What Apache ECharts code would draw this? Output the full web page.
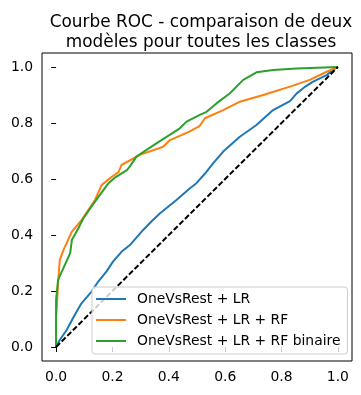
<!DOCTYPE html>
<html>
<head>
<meta charset="utf-8">
<script src="https://cdn.jsdelivr.net/npm/echarts@6/dist/echarts.min.js"></script>
<style>
html,body{margin:0;padding:0;background:#fff;}
#chart{width:361px;height:395px;}
</style>
</head>
<body>
<div id="chart"></div>
<script>
var titleText = "Courbe ROC - comparaison de deux\nmodèles pour toutes les classes";
var seriesNames = ["OneVsRest + LR", "OneVsRest + LR + RF", "OneVsRest + LR + RF binaire"];
var tickValues = [0, 0.2, 0.4, 0.6, 0.8, 1.0];

var lrFpr = [0, 0.013, 0.037, 0.066, 0.09, 0.126, 0.149, 0.179, 0.202, 0.232, 0.262, 0.309, 0.34, 0.368, 0.427, 0.475, 0.498, 0.534, 0.557, 0.593, 0.652, 0.711, 0.77, 0.83, 0.853, 0.88, 0.912, 0.96, 0.99, 1];
var lrTpr = [0, 0.025, 0.06, 0.114, 0.156, 0.198, 0.233, 0.27, 0.305, 0.34, 0.364, 0.418, 0.45, 0.477, 0.525, 0.567, 0.585, 0.626, 0.656, 0.698, 0.751, 0.793, 0.846, 0.878, 0.905, 0.927, 0.948, 0.971, 0.995, 1];

var rfFpr = [0, 0, 0.003, 0.007, 0.013, 0.026, 0.056, 0.091, 0.138, 0.162, 0.198, 0.222, 0.232, 0.297, 0.38, 0.404, 0.475, 0.51, 0.528, 0.593, 0.652, 0.735, 0.83, 0.9, 0.96, 1];
var rfTpr = [0, 0.108, 0.15, 0.229, 0.31, 0.346, 0.412, 0.454, 0.525, 0.579, 0.608, 0.625, 0.65, 0.686, 0.715, 0.739, 0.77, 0.79, 0.817, 0.846, 0.876, 0.9, 0.93, 0.954, 0.983, 1];

var binFpr = [0, 0, 0, 0.007, 0.025, 0.05, 0.056, 0.079, 0.097, 0.138, 0.186, 0.21, 0.251, 0.262, 0.285, 0.356, 0.439, 0.463, 0.51, 0.534, 0.569, 0.617, 0.664, 0.711, 0.77, 0.853, 1];
var binTpr = [0, 0.085, 0.168, 0.24, 0.28, 0.335, 0.382, 0.424, 0.46, 0.519, 0.585, 0.606, 0.632, 0.645, 0.68, 0.727, 0.781, 0.805, 0.829, 0.84, 0.87, 0.906, 0.954, 0.981, 0.989, 0.995, 1];

var diagX = [0, 1];
var diagY = [0, 1];

function zip(a, b) { return a.map(function (v, i) { return [v, b[i]]; }); }

var font = "DejaVu Sans";
var chart = echarts.init(document.getElementById('chart'), null, {renderer: 'canvas'});

function axisCommon() {
  return {
    type: 'value', min: -0.05, max: 1.05,
    axisLine: {show: false},
    axisTick: {show: true, length: 5, inside: false, customValues: tickValues, lineStyle: {color: '#000', width: 1}},
    axisLabel: {show: true, margin: 9, customValues: tickValues, color: '#000', fontFamily: font, fontSize: 13.9,
      formatter: function (v) { return v.toFixed(1); }},
    splitLine: {show: false}
  };
}

var option = {
  animation: false,
  backgroundColor: '#fff',
  title: {
    text: titleText, left: 196, top: 8, textAlign: 'center',
    textStyle: {fontFamily: font, fontSize: 16.9, fontWeight: 'normal', color: '#000', lineHeight: 19.5}
  },
  grid: {left: 42, right: 9, top: 53, bottom: 34, show: true, borderColor: '#000', borderWidth: 1, backgroundColor: 'transparent'},
  xAxis: axisCommon(),
  yAxis: axisCommon(),
  legend: {
    data: seriesNames, orient: 'vertical', left: 92, top: 287, z: 20,
    icon: 'rect', itemWidth: 30, itemHeight: 2, itemGap: 7,
    padding: [5, 7, 6, 4],
    backgroundColor: 'rgba(255,255,255,0.8)', borderColor: '#cccccc', borderWidth: 1, borderRadius: 3,
    textStyle: {fontFamily: font, fontSize: 13.9, color: '#000', lineHeight: 14, padding: [0, 0, 0, 6]}
  },
  series: [
    {name: seriesNames[0], type: 'line', data: zip(lrFpr, lrTpr), symbol: 'none', showSymbol: false, color: '#1f77b4', lineStyle: {width: 2, color: '#1f77b4'}, z: 2},
    {name: seriesNames[1], type: 'line', data: zip(rfFpr, rfTpr), symbol: 'none', showSymbol: false, color: '#ff7f0e', lineStyle: {width: 2, color: '#ff7f0e'}, z: 3},
    {name: seriesNames[2], type: 'line', data: zip(binFpr, binTpr), symbol: 'none', showSymbol: false, color: '#2ca02c', lineStyle: {width: 2, color: '#2ca02c'}, z: 4},
    {name: 'diag', type: 'line', data: zip(diagX, diagY), symbol: 'none', showSymbol: false, color: '#000', lineStyle: {width: 2, color: '#000', type: [5.5, 2.4]}, z: 5}
  ]
};
chart.setOption(option);
</script>
</body>
</html>
